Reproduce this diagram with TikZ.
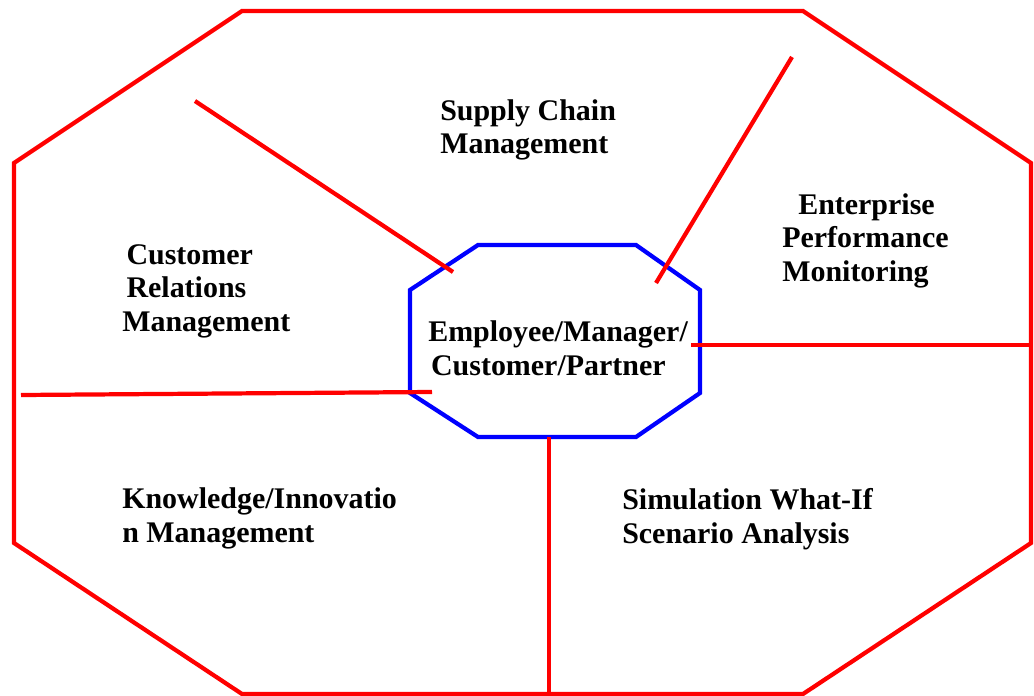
\documentclass[tikz,border=0pt]{standalone}
\usepackage{fontspec}
\setmainfont{Liberation Serif}
\tikzset{
	rim/.style={line width=3pt, color=red},
	hubline/.style={line width=3pt, color=blue},
	sector/.style={font=\fontsize{21.3}{23.5}\selectfont\bfseries, align=left, anchor=base west, inner sep=0pt}
}

\begin{document}
\begin{tikzpicture}[x=0.025cm, y=-0.025cm]
			%%%%% START %%%%%
			\useasboundingbox (0, 0) rectangle (1034, 696);
			
			% outer octagon
			\draw[rim] (242, 11) -- (803, 11) -- (1031, 163) -- (1031, 543) -- (803, 694) -- (242, 694) -- (14, 543) -- (14, 163) -- cycle;
			
			% inner octagon
			\draw[hubline] (478, 245) -- (636, 245) -- (700, 290) -- (700, 393) -- (636, 437) -- (478, 437) -- (410, 393) -- (410, 290) -- cycle;
			
			% spokes
			\draw[rim] (195, 101) -- (453, 272);
			\draw[rim] (792, 57) -- (656, 283);
			\draw[rim] (691, 345) -- (1031, 345);
			\draw[rim] (21, 395) -- (432, 392);
			\draw[rim] (549, 437) -- (549, 696);
			
			% labels (anchored at the last baseline)
			\node[sector] (hub) at (428, 375) {Employee/Manager/\\\hspace*{2pt}Customer/Partner};
			\node[sector] (scm) at (440, 154) {Supply Chain\\Management};
			\node[sector] (epm) at (782, 281) {\hspace*{0.4cm}Enterprise\\Performance\\Monitoring};
			\node[sector] (crm) at (122, 331) {\hspace*{3pt}Customer\\\hspace*{3pt}Relations\\Management};
			\node[sector] (kim) at (122, 542) {Knowledge/Innovatio\\n Management};
			\node[sector] (sim) at (622, 543) {Simulation What-If\\Scenario Analysis};
			
			%%%%% END %%%%%
\end{tikzpicture}
\end{document}
